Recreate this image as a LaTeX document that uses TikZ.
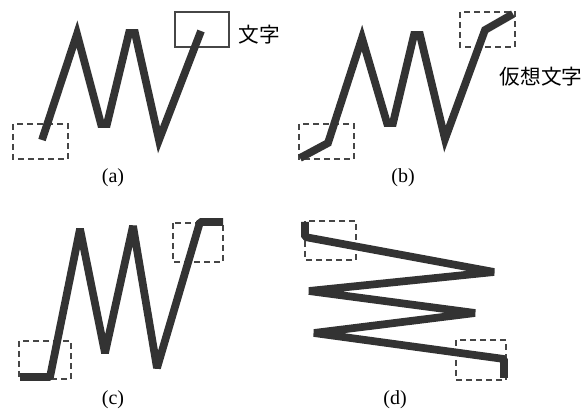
\documentclass[tikz,border=0pt]{standalone}
\usepackage{fontspec}
\setmainfont{Liberation Serif}
\newfontfamily\cjk{Noto Sans CJK JP}
\usetikzlibrary{positioning}
\definecolor{wiregray}{RGB}{51,51,51}
\definecolor{boxgray}{RGB}{70,70,70}
\tikzset{
  wire/.style={draw=wiregray, line width=5.8pt, line join=miter, miter limit=10, line cap=butt},
  bluntwire/.style={wire, line join=bevel},
  dashbox/.style={draw=boxgray, line width=1.1pt, dash pattern=on 4.5pt off 3pt},
  solidbox/.style={draw=boxgray, line width=1.5pt},
  caption/.style={font=\fontsize{15}{17}\selectfont, inner sep=0pt},
  cjklabel/.style={font=\cjk\fontsize{15.5}{17}\selectfont, inner sep=0pt}
}
\begin{document}
\begin{tikzpicture}[x=0.75pt, y=-0.75pt]
  \useasboundingbox (0,0) rectangle (586,413);
  % (a)
  \draw[dashbox] (13,124) rectangle (68,159);
  \draw[solidbox] (175,12) rectangle (229,47);
  \draw[wire] (42,140) -- (77,34) -- (101,124) -- (107,124) -- (129,33) -- (135,33)
    -- (159,140) -- (201,31);
  \node[cjklabel] (worda) at (259,35) {文字};
  \node[caption] (capa) at (113,178) {(a)};
  % (b)
  \draw[dashbox] (299,124) rectangle (354,159);
  \draw[dashbox] (460,12) rectangle (515,47);
  \draw[wire] (300,158) -- (328,143) -- (362,38) -- (387,123) -- (393,123) -- (414,35)
    -- (420,35) -- (445,139) -- (485,30) -- (513,14);
  \node[cjklabel] (wordb) at (541,77) {仮想文字};
  \node[caption] (capb) at (403,178) {(b)};
  % (c)
  \draw[dashbox] (19,341) rectangle (71,379);
  \draw[dashbox] (173,223) rectangle (223,262);
  \draw[bluntwire] (20,377) -- (50,377) -- (80,229) -- (105,353) -- (133,226)
    -- (157,368) -- (200,222) -- (223,222);
  \node[caption] (capc) at (113,400) {(c)};
  % (d)
  \draw[dashbox] (305,221) rectangle (356,260);
  \draw[dashbox] (456,340) rectangle (506,380);
  \draw[bluntwire] (305,222) -- (305,237) -- (494,272) -- (309,291) -- (475,313)
    -- (314,333) -- (504,359) -- (504,378);
  \node[caption] (capd) at (395,400) {(d)};
\end{tikzpicture}
\end{document}
